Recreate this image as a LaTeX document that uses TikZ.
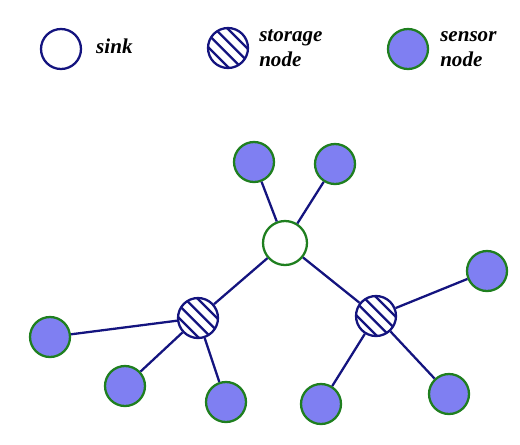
\documentclass[tikz,border=0pt]{standalone}
\usepackage{fontspec}
\setmainfont{Liberation Serif}
\usepackage{tikz}
\usetikzlibrary{positioning,calc}
\definecolor{WSNnavy}{HTML}{14147F}
\definecolor{WSNgreen}{HTML}{1F7F1F}
\definecolor{WSNblue}{HTML}{7F7FF2}
\tikzset{
  wsn/base/.style={circle, line width=1.3pt, inner sep=0pt, minimum size=0.8cm},
  wsn/sink/.style={wsn/base, draw=WSNgreen, fill=white, minimum size=0.88cm},
  wsn/sinkkey/.style={wsn/base, draw=WSNnavy, fill=white},
  wsn/storage/.style={wsn/base, draw=WSNnavy, fill=white,
    path picture={
      \foreach \d in {-0.19,-0.063,0.063,0.19}
        \draw[WSNnavy, line width=1.3pt]
          ($(path picture bounding box.center)+(\d cm,\d cm)+(-0.6cm,0.6cm)$) --
          ($(path picture bounding box.center)+(\d cm,\d cm)+(0.6cm,-0.6cm)$);
    }},
  wsn/sensor/.style={wsn/base, draw=WSNgreen, fill=WSNblue},
  wsn/link/.style={draw=WSNnavy, line width=1.3pt},
  wsn/label/.style={font=\fontsize{12}{14}\selectfont\bfseries\itshape, align=left, inner sep=1pt}
}

\begin{document}
\begin{tikzpicture}[x=0.02cm, y=-0.02cm, node distance=3mm]
  \useasboundingbox (0,0) rectangle (520,444);
  % legend
  \node[wsn/sinkkey] (ksink) at (61,49) {};
  \node[wsn/label, right=2.4mm of ksink, yshift=0.06cm] (lsink) {sink};
  \node[wsn/storage] (kstore) at (228,48) {};
  \node[wsn/label, right=1.6mm of kstore] (lstore) {storage\\node};
  \node[wsn/sensor] (ksensor) at (408,49) {};
  \node[wsn/label, right=1.8mm of ksensor] (lsensor) {sensor\\node};
  % network
  \node[wsn/sink] (sink) at (285,243) {};
  \node[wsn/storage] (stA) at (198,318) {};
  \node[wsn/storage] (stB) at (376,316) {};
  \node[wsn/sensor] (s1) at (254,162) {};
  \node[wsn/sensor] (s2) at (335,164) {};
  \node[wsn/sensor] (s3) at (50,337) {};
  \node[wsn/sensor] (s4) at (125,386) {};
  \node[wsn/sensor] (s5) at (226,402) {};
  \node[wsn/sensor] (s6) at (487,271) {};
  \node[wsn/sensor] (s7) at (321,404) {};
  \node[wsn/sensor] (s8) at (449,394) {};
  \draw[wsn/link] (sink) -- (s1);
  \draw[wsn/link] (sink) -- (s2);
  \draw[wsn/link] (sink) -- (stA);
  \draw[wsn/link] (sink) -- (stB);
  \draw[wsn/link] (stA) -- (s3);
  \draw[wsn/link] (stA) -- (s4);
  \draw[wsn/link] (stA) -- (s5);
  \draw[wsn/link] (stB) -- (s6);
  \draw[wsn/link] (stB) -- (s7);
  \draw[wsn/link] (stB) -- (s8);
\end{tikzpicture}
\end{document}
